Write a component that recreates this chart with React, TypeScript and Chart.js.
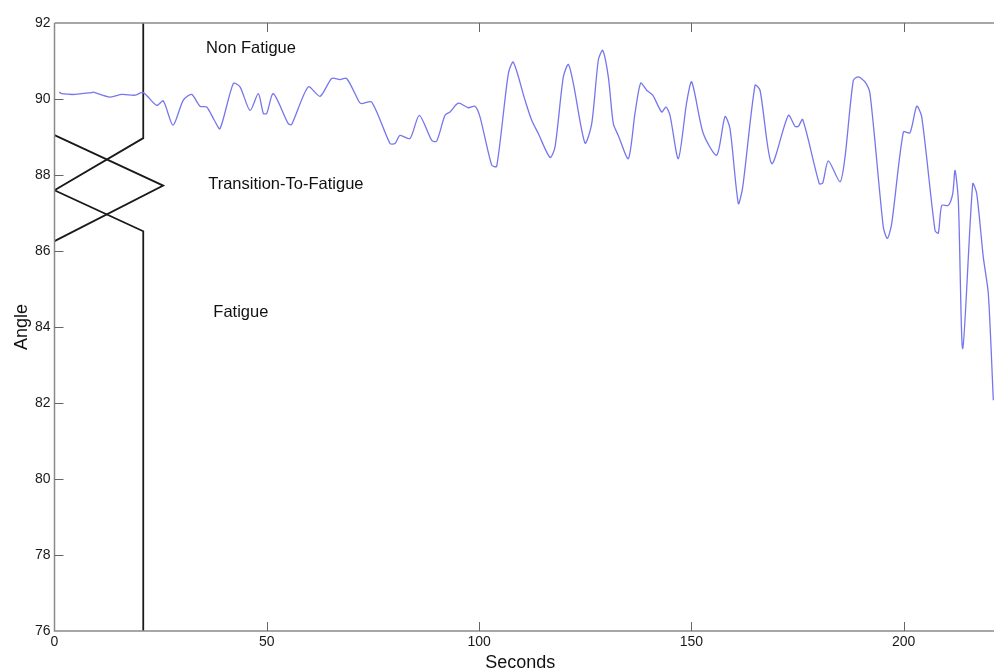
import React, { useEffect, useRef } from "react";
import { Chart, registerables } from "chart.js";

Chart.register(...registerables);

// Blue trace: time (s) and angle (deg)
const seconds = [
  1.13, 1.7, 4.83, 8.76, 9.14, 13.07, 15.83, 18.96, 20.91, 24.07, 25.62, 27.91, 30.33, 32.31, 34.27, 35.85,
  37.64, 38.98, 42.11, 43.69, 46.04, 48.0, 49.18, 49.98, 51.53, 55.06, 55.86, 59.77, 62.53, 65.29, 67.24,
  68.82, 71.78, 72.35, 74.71, 79.02, 80.19, 81.37, 83.73, 85.92, 88.84, 90.01, 91.97, 93.15, 95.1, 97.46,
  99.03, 100.21, 102.97, 104.14, 106.88, 108.05, 110.81, 112.39, 113.94, 116.7, 117.88, 119.83, 121.01,
  122.19, 124.94, 126.52, 128.07, 129.11, 130.43, 131.61, 132.78, 135.14, 136.71, 138.06, 139.47, 140.89,
  143.0, 144.02, 144.96, 146.92, 148.89, 150.07, 152.8, 155.96, 157.91, 159.09, 161.05, 162.08, 164.98,
  166.16, 168.91, 172.82, 174.4, 175.18, 176.21, 180.12, 180.92, 182.24, 184.99, 186.17, 188.13, 189.31,
  190.88, 192.06, 195.19, 196.14, 197.17, 199.91, 201.48, 203.06, 204.24, 207.37, 208.15, 208.95, 210.51,
  211.54, 212.08, 212.86, 213.9, 216.25, 217.19, 218.74, 219.92, 221.1,
];
const angles = [
  90.18, 90.14, 90.12, 90.17, 90.18, 90.05, 90.12, 90.1, 90.17, 89.83, 89.95, 89.31, 89.97, 90.12, 89.81, 89.79,
  89.44, 89.22, 90.41, 90.32, 89.7, 90.14, 89.62, 89.62, 90.14, 89.35, 89.33, 90.32, 90.07, 90.54, 90.51,
  90.54, 89.92, 89.88, 89.92, 88.83, 88.83, 89.04, 88.96, 89.57, 88.91, 88.89, 89.57, 89.66, 89.89, 89.77,
  89.81, 89.53, 88.26, 88.23, 90.67, 90.97, 89.97, 89.44, 89.09, 88.46, 88.74, 90.58, 90.91,
  90.41, 88.84, 89.35, 91.02, 91.28, 90.58, 89.35, 89.04, 88.43, 89.62, 90.42, 90.23, 90.1,
  89.66, 89.79, 89.57, 88.43, 89.92, 90.45, 89.09, 88.52, 89.54, 89.22, 87.25, 87.68, 90.36,
  90.23, 88.3, 89.57, 89.28, 89.28, 89.46, 87.77, 87.79, 88.37, 87.82, 88.47, 90.49, 90.58,
  90.45, 90.14, 86.63, 86.33, 86.72, 89.13, 89.11, 89.81, 89.53, 86.54, 86.47, 87.2, 87.2,
  87.51, 88.12, 87.33, 83.43, 87.77, 87.51, 85.84, 84.88, 82.07,
];

// Black region boundary lines
const boundaryAX = [20.9, 20.9, 0, 20.9, 20.9];
const boundaryAY = [92, 88.97, 87.6, 86.52, 76];
const boundaryBX = [0, 25.6, 0];
const boundaryBY = [89.05, 87.72, 86.26];

// Region labels
const regionLabels = ["Non Fatigue", "Transition-To-Fatigue", "Fatigue"];
const regionLabelX = [35.7, 36.2, 37.4];
const regionLabelY = [91.2, 87.64, 84.26];

// Axes
const xTicks = [0, 50, 100, 150, 200];
const yTicks = [76, 78, 80, 82, 84, 86, 88, 90, 92];
const xTitle = "Seconds";
const yTitle = "Angle";

const FONT = "'Liberation Sans', Arial, Helvetica, sans-serif";

const decorPlugin = {
  id: "decor",
  afterDatasetsDraw(chart: any) {
    const { ctx, chartArea, scales } = chart;
    const xs = scales.x;
    const ys = scales.y;
    ctx.save();
    // axis lines
    ctx.strokeStyle = "#8a8a8a";
    ctx.lineWidth = 1.5;
    ctx.beginPath();
    ctx.moveTo(chartArea.left, chartArea.top);
    ctx.lineTo(chartArea.right, chartArea.top);
    ctx.moveTo(chartArea.left, chartArea.top);
    ctx.lineTo(chartArea.left, chartArea.bottom);
    ctx.lineTo(chartArea.right, chartArea.bottom);
    ctx.stroke();
    // inward ticks
    ctx.strokeStyle = "#666";
    ctx.lineWidth = 1;
    ctx.beginPath();
    xTicks.forEach((v) => {
      if (v === 0) return;
      const px = Math.round(xs.getPixelForValue(v)) + 0.5;
      ctx.moveTo(px, chartArea.bottom);
      ctx.lineTo(px, chartArea.bottom - 9);
      ctx.moveTo(px, chartArea.top);
      ctx.lineTo(px, chartArea.top + 9);
    });
    yTicks.forEach((v) => {
      if (v === 76 || v === 92) return;
      const py = Math.round(ys.getPixelForValue(v)) + 0.5;
      ctx.moveTo(chartArea.left, py);
      ctx.lineTo(chartArea.left + 9, py);
    });
    ctx.stroke();
    // region labels
    ctx.fillStyle = "#111";
    ctx.font = `16.5px ${FONT}`;
    ctx.textAlign = "left";
    ctx.textBaseline = "alphabetic";
    regionLabels.forEach((t, i) => {
      ctx.fillText(t, xs.getPixelForValue(regionLabelX[i]), ys.getPixelForValue(regionLabelY[i]));
    });
    // axis titles
    ctx.font = `18px ${FONT}`;
    ctx.fillStyle = "#111";
    ctx.textAlign = "center";
    ctx.textBaseline = "middle";
    ctx.fillText(xTitle, (xs.getPixelForValue(0) + xs.getPixelForValue(221.26)) / 2 - 4, 663);
    ctx.translate(22, (chartArea.top + chartArea.bottom) / 2);
    ctx.rotate(-Math.PI / 2);
    ctx.fillText(yTitle, 0, 0);
    ctx.restore();
  },
};

export default function App() {
  const ref = useRef<HTMLCanvasElement | null>(null);
  useEffect(() => {
    if (!ref.current) return;
    const chart = new Chart(ref.current, {
      type: "scatter",
      data: {
        datasets: [
          {
            data: seconds.map((x, i) => ({ x, y: angles[i] })),
            showLine: true,
            borderColor: "rgb(118,118,236)",
            borderWidth: 1.3,
            pointRadius: 0,
            tension: 0.25,
          },
          {
            data: boundaryAX.map((x, i) => ({ x, y: boundaryAY[i] })),
            showLine: true,
            borderColor: "#1a1a1a",
            borderWidth: 1.8,
            pointRadius: 0,
          },
          {
            data: boundaryBX.map((x, i) => ({ x, y: boundaryBY[i] })),
            showLine: true,
            borderColor: "#1a1a1a",
            borderWidth: 1.8,
            pointRadius: 0,
          },
        ],
      },
      options: {
        responsive: false,
        animation: false,
        events: [],
        layout: { padding: { top: 23, right: 0, left: 0, bottom: 0 } },
        plugins: { legend: { display: false }, tooltip: { enabled: false } },
        scales: {
          x: {
            type: "linear",
            min: 0,
            max: 221.26,
            grid: { display: false, drawTicks: false },
            border: { display: false },
            afterBuildTicks: (s: any) => {
              s.ticks = xTicks.map((v) => ({ value: v }));
            },
            afterFit: (s: any) => {
              s.height = 41;
            },
            ticks: {
              padding: 3,
              color: "#1a1a1a",
              font: { family: FONT, size: 14 },
              maxRotation: 0,
              autoSkip: false,
            },
          },
          y: {
            type: "linear",
            min: 76,
            max: 92,
            grid: { display: false, drawTicks: false },
            border: { display: false },
            afterBuildTicks: (s: any) => {
              s.ticks = yTicks.map((v) => ({ value: v }));
            },
            afterFit: (s: any) => {
              s.width = 54.5;
            },
            ticks: {
              padding: 4,
              color: "#1a1a1a",
              font: { family: FONT, size: 14 },
              autoSkip: false,
            },
          },
        },
      },
      plugins: [decorPlugin],
    } as any);
    return () => chart.destroy();
  }, []);
  return (
    <canvas
      ref={ref}
      width={994}
      height={672}
      style={{ position: "absolute", left: 0, top: 0, width: 994, height: 672, display: "block", background: "#fff" }}
    />
  );
}
